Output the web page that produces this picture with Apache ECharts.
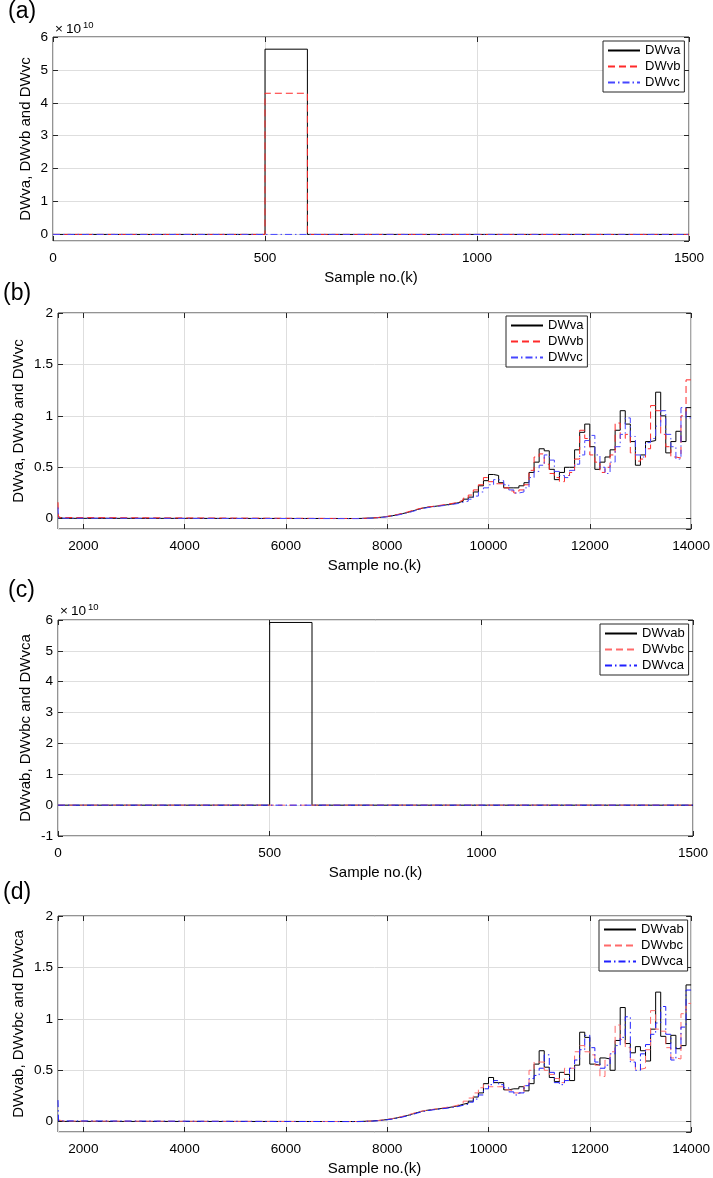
<!DOCTYPE html>
<html>
<head>
<meta charset="utf-8">
<title>DWv</title>
<script src="https://cdn.jsdelivr.net/npm/echarts@6.0.0/dist/echarts.min.js"></script>
<style>
  html, body { margin: 0; padding: 0; background: #fff; }
  #chart { width: 713px; height: 1178px; }
</style>
</head>
<body>
<div id="chart"></div>
<script>
// (a) and (c): pulse between samples 500 and 600
const xsPulse = [0, 500, 600, 1500]
const dwvaA = [0, 5.63e10, 0, 0]
const dwvbA = [0, 4.29e10, 0, 0]
const dwvcA = [0, 0, 0, 0]
const dwvabC = [0, 5.92e10, 0, 0]
const dwvbcC = [0, 0, 0, 0]
const dwvcaC = [0, 0, 0, 0]

// (b) and (d): stair values, each held until the next sample
const xsSteps = [1500, 1510, 1600,
  7400, 7500, 7600, 7700, 7800, 7900,
  8000, 8100, 8200, 8300, 8400, 8500, 8600, 8700, 8800, 8900,
  9000, 9100, 9200, 9300, 9400, 9500, 9600, 9700, 9800, 9900,
  10000, 10100, 10200, 10300, 10400, 10500, 10600, 10700, 10800, 10900,
  11000, 11100, 11200, 11300, 11400, 11500, 11600, 11700, 11800, 11900,
  12000, 12100, 12200, 12300, 12400, 12500, 12600, 12700, 12800, 12900,
  13000, 13100, 13200, 13300, 13400, 13500, 13600, 13700, 13800, 13900,
  14000]

const dwvaB = [0.02, 0.004, 0.002,
  0.003, 0.005, 0.007, 0.010, 0.015, 0.021,
  0.029, 0.038, 0.049, 0.061, 0.075, 0.090, 0.103, 0.112, 0.118, 0.124,
  0.130, 0.137, 0.145, 0.155, 0.17, 0.19, 0.21, 0.26, 0.32, 0.37,
  0.43, 0.42, 0.35, 0.30, 0.30, 0.30, 0.32, 0.35, 0.45, 0.55,
  0.68, 0.66, 0.48, 0.38, 0.45, 0.50, 0.50, 0.67, 0.84, 0.92,
  0.70, 0.48, 0.55, 0.60, 0.67, 0.86, 1.05, 0.92, 0.75, 0.52,
  0.62, 0.75, 0.76, 1.23, 1.00, 0.64, 0.75, 0.85, 0.75, 1.08,
  1.08]
const dwvbB = [0.16, 0.012, 0.002,
  0.003, 0.005, 0.007, 0.011, 0.016, 0.023,
  0.031, 0.041, 0.052, 0.065, 0.080, 0.094, 0.105, 0.113, 0.120, 0.127,
  0.134, 0.142, 0.150, 0.162, 0.18, 0.20, 0.23, 0.28, 0.33, 0.40,
  0.36, 0.34, 0.34, 0.30, 0.27, 0.25, 0.28, 0.33, 0.47, 0.60,
  0.63, 0.53, 0.44, 0.40, 0.36, 0.42, 0.45, 0.58, 0.86, 0.78,
  0.62, 0.55, 0.45, 0.50, 0.62, 0.93, 0.78, 0.82, 0.64, 0.56,
  0.58, 0.68, 1.10, 1.05, 0.82, 0.70, 0.60, 0.59, 1.00, 1.35,
  1.35]
const dwvcB = [0.11, 0.005, 0.001,
  0.002, 0.004, 0.006, 0.009, 0.013, 0.019,
  0.026, 0.035, 0.045, 0.057, 0.070, 0.085, 0.098, 0.108, 0.115, 0.121,
  0.127, 0.133, 0.140, 0.148, 0.16, 0.17, 0.19, 0.22, 0.26, 0.30,
  0.33, 0.38, 0.37, 0.33, 0.28, 0.25, 0.26, 0.30, 0.40, 0.46,
  0.52, 0.62, 0.57, 0.46, 0.42, 0.40, 0.47, 0.53, 0.62, 0.76,
  0.81, 0.62, 0.50, 0.44, 0.55, 0.70, 0.82, 0.98, 0.80, 0.62,
  0.60, 0.74, 0.78, 0.90, 1.05, 0.82, 0.70, 0.58, 1.08, 0.98,
  0.98]

const dwvabD = [0.01, 0.003, 0.002,
  0.003, 0.005, 0.007, 0.010, 0.015, 0.021,
  0.029, 0.038, 0.049, 0.061, 0.075, 0.090, 0.103, 0.112, 0.118, 0.124,
  0.130, 0.137, 0.145, 0.155, 0.17, 0.18, 0.20, 0.24, 0.28, 0.37,
  0.43, 0.38, 0.38, 0.31, 0.32, 0.32, 0.34, 0.30, 0.37, 0.56,
  0.69, 0.53, 0.43, 0.39, 0.48, 0.46, 0.40, 0.55, 0.87, 0.82,
  0.56, 0.55, 0.62, 0.61, 0.50, 0.79, 1.11, 0.76, 0.67, 0.73,
  0.69, 0.59, 0.90, 1.26, 0.83, 0.76, 0.84, 0.71, 0.74, 1.33,
  1.33]
const dwvbcD = [0.02, 0.006, 0.002,
  0.003, 0.005, 0.007, 0.011, 0.016, 0.023,
  0.031, 0.041, 0.052, 0.065, 0.080, 0.094, 0.105, 0.113, 0.120, 0.127,
  0.134, 0.142, 0.150, 0.162, 0.18, 0.20, 0.23, 0.28, 0.33, 0.36,
  0.34, 0.34, 0.34, 0.31, 0.30, 0.28, 0.28, 0.35, 0.50, 0.58,
  0.58, 0.50, 0.46, 0.42, 0.38, 0.52, 0.52, 0.68, 0.74, 0.68,
  0.65, 0.55, 0.44, 0.60, 0.68, 0.94, 0.80, 0.72, 0.60, 0.51,
  0.52, 0.70, 1.08, 0.90, 0.88, 0.72, 0.62, 0.61, 1.05, 1.15,
  1.15]
const dwvcaD = [0.21, 0.008, 0.001,
  0.002, 0.004, 0.006, 0.009, 0.013, 0.019,
  0.026, 0.035, 0.045, 0.057, 0.070, 0.085, 0.098, 0.108, 0.115, 0.121,
  0.127, 0.133, 0.140, 0.148, 0.16, 0.17, 0.19, 0.22, 0.26, 0.32,
  0.36, 0.40, 0.36, 0.33, 0.29, 0.26, 0.28, 0.35, 0.42, 0.45,
  0.52, 0.65, 0.48, 0.38, 0.36, 0.40, 0.52, 0.60, 0.70, 0.84,
  0.72, 0.58, 0.52, 0.55, 0.66, 0.74, 0.82, 1.02, 0.58, 0.50,
  0.66, 0.75, 0.85, 0.96, 1.12, 0.85, 0.60, 0.72, 0.92, 1.28,
  1.28]

const fontFamily = '"Liberation Sans", Arial, Helvetica, sans-serif'
const axisColor = '#262626'
const gridColor = '#dedede'

const black = { color: '#000000', width: 1, type: 'solid' }
const red = { color: '#ff2a2a', width: 1, type: [7, 4] }
const blue = { color: '#4646ff', width: 1, type: [7, 3, 1.5, 3] }
const red2 = { color: '#ff6a6a', width: 1, type: [7, 4] }
const blue2 = { color: '#2020ff', width: 1, type: [7, 3, 1.5, 3] }

const panels = [
  {
    grid: { left: 53, right: 24, top: 37, height: 204 },
    x: { min: 0, max: 1500, step: 500 },
    y: { min: -0.2e10, max: 6e10, step: 1e10, scale: 1e10 },
    yName: 'DWva, DWvb and DWvc', yNameGap: 20,
    legend: { left: 603, top: 41 },
    series: [['DWva', xsPulse, dwvaA, black], ['DWvb', xsPulse, dwvbA, red], ['DWvc', xsPulse, dwvcA, blue]]
  },
  {
    grid: { left: 58, right: 20, top: 313, height: 216 },
    x: { min: 1500, max: 14000, step: 2000 },
    y: { min: -0.1, max: 2, step: 0.5 },
    yName: 'DWva, DWvb and DWvc', yNameGap: 32,
    legend: { left: 506, top: 316 },
    series: [['DWva', xsSteps, dwvaB, black], ['DWvb', xsSteps, dwvbB, red], ['DWvc', xsSteps, dwvcB, blue]]
  },
  {
    grid: { left: 58, right: 20, top: 620, height: 216 },
    x: { min: 0, max: 1500, step: 500 },
    y: { min: -1e10, max: 6e10, step: 1e10, scale: 1e10 },
    yName: 'DWvab, DWvbc and DWvca', yNameGap: 25,
    legend: { left: 600, top: 624 },
    series: [['DWvab', xsPulse, dwvabC, black], ['DWvbc', xsPulse, dwvbcC, red2], ['DWvca', xsPulse, dwvcaC, blue2]]
  },
  {
    grid: { left: 58, right: 20, top: 916, height: 216 },
    x: { min: 1500, max: 14000, step: 2000 },
    y: { min: -0.1, max: 2, step: 0.5 },
    yName: 'DWvab, DWvbc and DWvca', yNameGap: 32,
    legend: { left: 599, top: 920 },
    series: [['DWvab', xsSteps, dwvabD, black], ['DWvbc', xsSteps, dwvbcD, red2], ['DWvca', xsSteps, dwvcaD, blue2]]
  }
]

const tick = { show: true, inside: true, length: 5, lineStyle: { color: axisColor, width: 1 } }

// nice ticks are forced to the step, so they start at a multiple of it, not at min
const makeX = (p, i, position) => {
  const main = position === 'bottom'
  return {
    type: 'value', gridIndex: i, position,
    min: p.x.min, max: p.x.max, minInterval: p.x.step, maxInterval: p.x.step, splitNumber: 4,
    axisLine: { show: false, onZero: false },
    axisTick: tick,
    axisLabel: {
      show: main, margin: 10, color: '#000', fontSize: 13.6, fontFamily,
      showMinLabel: p.x.min % p.x.step === 0, showMaxLabel: true,
      formatter: v => String(v)
    },
    splitLine: { show: main, lineStyle: { color: gridColor, width: 1 } },
    name: main ? 'Sample no.(k)' : '',
    nameLocation: 'middle', nameGap: 29, nameMoveOverlap: false,
    nameTextStyle: { color: '#000', fontSize: 15, fontFamily }
  }
}

const makeY = (p, i, position) => {
  const main = position === 'left'
  return {
    type: 'value', gridIndex: i, position,
    min: p.y.min, max: p.y.max, minInterval: p.y.step, maxInterval: p.y.step, splitNumber: 6,
    axisLine: { show: false, onZero: false },
    axisTick: tick,
    axisLabel: {
      show: main, margin: 5, color: '#000', fontSize: 13.6, fontFamily,
      showMinLabel: p.y.min % p.y.step === 0, showMaxLabel: true,
      formatter: v => p.y.scale ? String(Math.round(v / p.y.scale)) : String(v)
    },
    splitLine: { show: main, lineStyle: { color: gridColor, width: 1 } },
    name: main ? p.yName : '',
    nameLocation: 'middle', nameGap: p.yNameGap, nameMoveOverlap: false,
    nameTextStyle: { color: '#000', fontSize: 15, fontFamily }
  }
}

const xAxis = []
const yAxis = []
const series = []
panels.forEach((p, i) => {
  xAxis.push(makeX(p, i, 'bottom'), makeX(p, i, 'top'))
  yAxis.push(makeY(p, i, 'left'), makeY(p, i, 'right'))
  p.series.forEach(([name, xs, ys, style]) => {
    series.push({
      name,
      type: 'line',
      xAxisIndex: 2 * i,
      yAxisIndex: 2 * i,
      step: 'end',
      symbol: 'none',
      lineStyle: style,
      itemStyle: { color: style.color },
      data: xs.map((x, k) => [x, ys[k]])
    })
  })
})

const letters = [
  { t: '(a)', x: 8, y: 0 },
  { t: '(b)', x: 3, y: 282 },
  { t: '(c)', x: 8, y: 579 },
  { t: '(d)', x: 3, y: 881 }
]
const exponents = [{ x: 55, y: 22 }, { x: 60, y: 604 }]

const option = {
  animation: false,
  backgroundColor: '#ffffff',
  grid: panels.map(p => ({
    ...p.grid, show: true, backgroundColor: '#ffffff',
    borderColor: axisColor, borderWidth: 1, containLabel: false
  })),
  xAxis,
  yAxis,
  legend: panels.map(p => ({
    orient: 'vertical',
    left: p.legend.left,
    top: p.legend.top,
    data: p.series.map(s => s[0]),
    itemWidth: 32,
    itemHeight: 14,
    itemGap: 3,
    padding: [3, 4, 3, 4],
    backgroundColor: '#ffffff',
    borderColor: axisColor,
    borderWidth: 1,
    borderRadius: 0,
    selectedMode: false,
    // line sample only, no marker in the middle
    itemStyle: { color: 'rgba(0,0,0,0)', borderColor: 'rgba(0,0,0,0)', borderWidth: 0 },
    textStyle: { color: '#000', fontSize: 13, fontFamily }
  })),
  graphic: [
    ...letters.map(l => ({
      type: 'text', left: l.x, top: l.y,
      style: { text: l.t, fontSize: 23, fontFamily, fill: '#000' }
    })),
    ...exponents.flatMap(e => [
      { type: 'text', left: e.x, top: e.y, style: { text: '×', fontSize: 13.6, fontFamily, fill: '#000' } },
      { type: 'text', left: e.x + 11, top: e.y, style: { text: '10', fontSize: 13.6, fontFamily, fill: '#000' } },
      { type: 'text', left: e.x + 28, top: e.y - 2, style: { text: '10', fontSize: 9.5, fontFamily, fill: '#000' } }
    ])
  ],
  series
}

const chart = echarts.init(document.getElementById('chart'))
chart.setOption(option)
</script>
</body>
</html>
